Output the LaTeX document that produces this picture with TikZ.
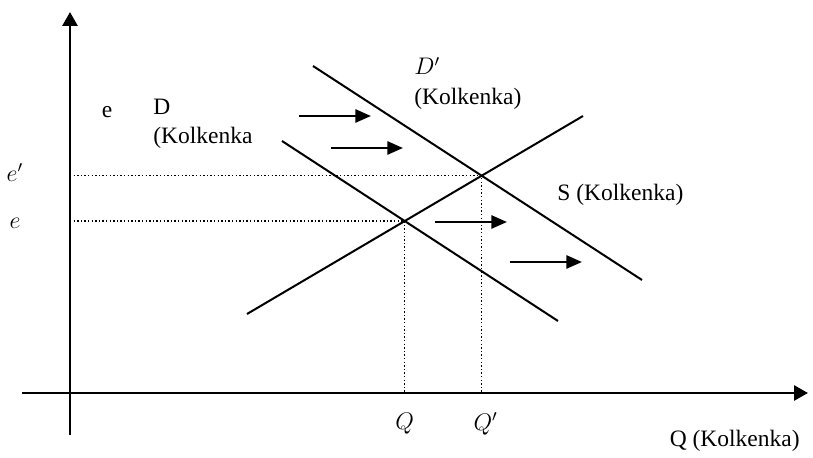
\documentclass[tikz,border=0pt]{standalone}
\usepackage{fontspec}
\setmainfont{Liberation Serif}
\usetikzlibrary{arrows.meta,calc}
\tikzset{
  axis/.style={-{Triangle[length=7pt,width=7.5pt]}, line width=1.4pt},
  curve/.style={line width=1pt},
  guide/.style={line width=0.7pt, dash pattern=on 0.7pt off 1.1pt},
  shiftarrow/.style={-{Triangle[length=7.8pt,width=6.5pt]}, line width=1.3pt},
  lbl/.style={font=\fontsize{11.75}{14.6}\selectfont, inner sep=0pt, align=left}
}

\begin{document}
\begin{tikzpicture}[x=0.5pt,y=-0.5pt]
\useasboundingbox (0,0) rectangle (813,458);
% axes
\coordinate (o) at (70,393);
\coordinate (ybot) at (70,435);
\coordinate (ytop) at (70,12);
\coordinate (xleft) at (22,393);
\coordinate (xright) at (808,393);
\draw[axis] (ybot) -- (ytop);
\draw[axis] (xleft) -- (xright);
% supply and demand
\coordinate (s1) at (247,314);
\coordinate (s2) at (583,116);
\coordinate (d1) at (282,141);
\coordinate (d2) at (558,321);
\coordinate (dd1) at (313,66);
\coordinate (dd2) at (642,280);
\draw[curve] (s1) -- (s2);
\draw[curve] (d1) -- (d2);
\draw[curve] (dd1) -- (dd2);
\coordinate (eq) at (intersection of s1--s2 and d1--d2);
\coordinate (eqn) at (intersection of s1--s2 and dd1--dd2);
\coordinate (eqy) at (o |- eq);
\coordinate (eqx) at (eq |- o);
\coordinate (eqny) at (o |- eqn);
\coordinate (eqnx) at (eqn |- o);
\draw[guide] (eqy) -- (eq) -- (eqx);
\draw[guide] (eqny) -- (eqn) -- (eqnx);
% shift of demand
\foreach \x/\y [count=\i] in {299/116, 331/148, 435/222, 510/262}
  \draw[shiftarrow] (\x,\y) coordinate (a\i) -- ++(72,0) coordinate (b\i);
% labels
\node[lbl] (elbl) at (107,112) {e};
\node[lbl, anchor=north west] (dlbl) at (153,99) {D\\(Kolkenka};
\node[lbl, anchor=north west] (ddlbl) at (414,57) {$D'$\\(Kolkenka)};
\node[lbl, anchor=base west] (slbl) at (557,201) {S (Kolkenka)};
\node[lbl] (eylbl) at ($(eqy)+(-55,2)$) {$e$};
\node[lbl] (enylbl) at ($(eqny)+(-55,-3)$) {$e'$};
\node[lbl] (qlbl) at ($(eqx)+(0,31)$) {$Q$};
\node[lbl] (qnlbl) at ($(eqnx)+(4,31)$) {$Q'$};
\node[lbl, anchor=base east] (qaxlbl) at (800,447) {Q (Kolkenka)};
\end{tikzpicture}
\end{document}
